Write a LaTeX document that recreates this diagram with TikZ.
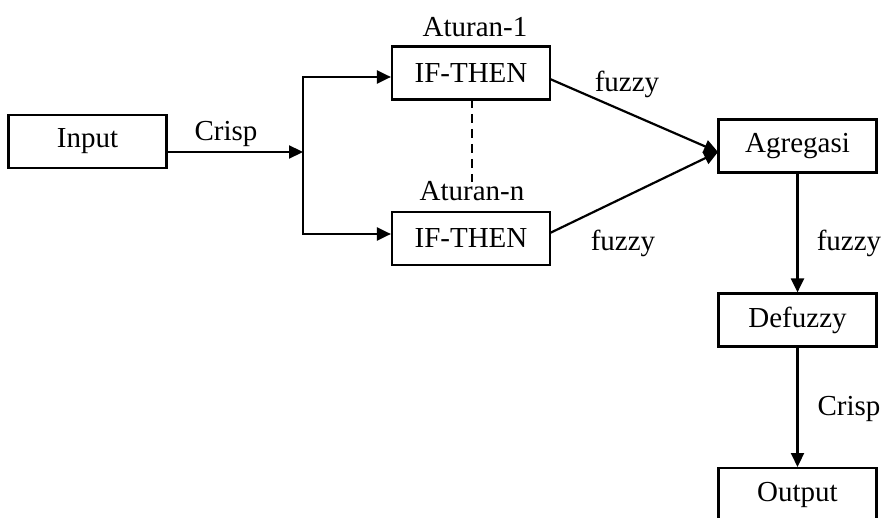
\documentclass[tikz,border=0pt]{standalone}
\usepackage{fontspec}
\setmainfont{Liberation Serif}
\usetikzlibrary{arrows.meta}
\begin{document}
\begin{tikzpicture}[x=1pt,y=-1pt,
  box/.style={draw,line width=2.2pt,minimum width=158pt,minimum height=53pt,inner sep=0pt,font=\fontsize{29}{34}\selectfont},
  lbl/.style={inner sep=0pt,font=\fontsize{29}{34}\selectfont},
  con/.style={line width=2.2pt},
  arr/.style={con,-{Triangle[length=14pt,width=13pt]}}]
\useasboundingbox (0,0) rectangle (885,518);
\node[box] (in) at (87.5,141.5) {Input};
\node[box] (if1) at (471,73) {IF-THEN};
\node[box] (ifn) at (471,238.5) {IF-THEN};
\node[box] (agg) at (797.5,146) {Agregasi};
\node[box] (def) at (797.5,320) {Defuzzy};
\node[box,anchor=north] (out) at (797.5,467) {Output};
\node[lbl] (a1) at (475,27) {Aturan-1};
\node[lbl] (an) at (472,191) {Aturan-n};
\node[lbl] (c1) at (226,134) {Crisp};
\node[lbl] (f1) at (627,84) {fuzzy};
\node[lbl] (f2) at (623,243) {fuzzy};
\node[lbl] (f3) at (849,243) {fuzzy};
\node[lbl] (c2) at (849,409) {Crisp};
\coordinate (j) at (303,152);
\coordinate (t1) at (303,77);
\coordinate (tn) at (303,234);
\coordinate (ain) at (718,152);
\draw[arr] (in.east |- j) -- (j);
\draw[arr] (t1 |- j) -- (t1) -- (if1.west |- t1);
\draw[arr] (tn |- j) -- (tn) -- (ifn.west |- tn);
\draw[con,dashed,dash pattern=on 9pt off 6pt] (472,99) -- (472,182);
\draw[arr] (550,79) -- (ain);
\draw[arr] (550,233) -- (ain);
\draw[arr] (agg.south) -- (def.north);
\draw[arr] (def.south) -- (out.north);
\end{tikzpicture}
\end{document}
